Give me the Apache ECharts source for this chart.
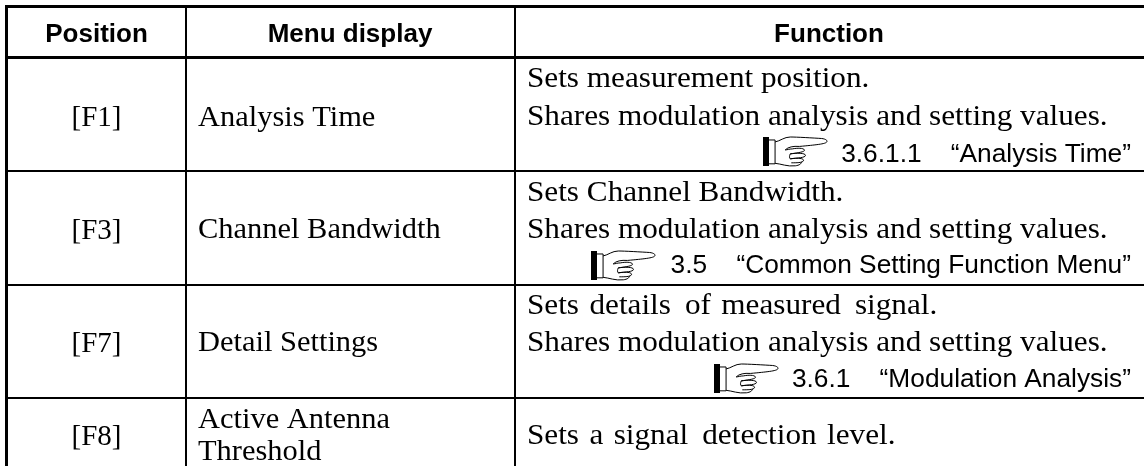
<!DOCTYPE html>
<html>
<head>
<meta charset="utf-8">
<style>html,body{margin:0;background:#fff}#chart{width:1144px;height:466px}</style>
<script src="https://cdn.jsdelivr.net/npm/echarts@6/dist/echarts.min.js"></script>
</head>
<body>
<div id="chart"></div>
<script>
// table contents
var headers = ['Position', 'Menu display', 'Function'];
var positions = ['[F1]', '[F3]', '[F7]', '[F8]'];
var menuDisplay = [['Analysis Time'], ['Channel Bandwidth'], ['Detail Settings'], ['Active Antenna', 'Threshold']];
var functionText = [
    ['Sets measurement position.', 'Shares modulation analysis and setting values.'],
    ['Sets Channel Bandwidth.', 'Shares modulation analysis and setting values.'],
    ['Sets \u200Adetails \u2009of \u200Ameasured \u2009signal.', 'Shares modulation analysis and setting values.'],
    ['Sets \u200Aa \u200Asignal \u2009detection \u200Alevel.']
];
var references = ['3.6.1.1    \u201cAnalysis Time\u201d', '3.5    \u201cCommon Setting Function Menu\u201d', '3.6.1    \u201cModulation Analysis\u201d', ''];

// rules, in axis units (axes run 0..1144 and 0..466)
var columnRules = [6.5, 186, 515];
var columnRuleWidths = [3, 2, 2];
var rowRules = [6.5, 57.5, 171, 285, 398];
var rowRuleWidths = [3, 3, 2, 2, 2];

// baselines per row
var positionBaselines = [126, 239, 352, 445];
var menuBaselines = [[126], [238], [351], [428, 460]];
var functionBaselines = [[87, 125], [201, 238], [314, 351], [444]];
var referenceBaselines = [162, 273, 387];
var handRects = [[763, 137], [591, 251], [714, 364]];

var serifKey = {font: '29px "Liberation Serif"', drop: 22, stretch: 1};
var serifMenu = {font: '29px "Liberation Serif"', drop: 22, stretch: 1.05};
var serif = {font: '29px "Liberation Serif"', drop: 22, stretch: 1.076};
var sans = {font: '26.3px "Liberation Sans"', drop: 20.2, stretch: 1};
var sansBold = {font: 'bold 26px "Liberation Sans"', drop: 19.5, stretch: 1};

var texts = [];
function addText(x, y, str, face, align) {
    texts.push([x, y, str, face, align]);
}
addText(96.5, 41, headers[0], sansBold, 'center');
addText(350, 41, headers[1], sansBold, 'center');
addText(829, 41, headers[2], sansBold, 'center');
positions.forEach(function (p, i) {
    addText(96.5, positionBaselines[i], p, serifKey, 'center');
    menuDisplay[i].forEach(function (s, j) {
        addText(198, menuBaselines[i][j], s, serifMenu, 'left');
    });
    functionText[i].forEach(function (s, j) {
        addText(527, functionBaselines[i][j], s, serif, 'left');
    });
    if (references[i]) {
        addText(1131, referenceBaselines[i], references[i], sans, 'right');
    }
});

var handOutline = 'M12 5C17 4 21 0 27 0C33 0 50 1 58 1.5C62 2 64 3.5 63 5C62 7 52 8 36 9.5' +
    'C30 9 25 10 22 13C24 13 26 12 29 12C34 11 40 11 41 13C42 15 34 16 27 17' +
    'C33 16 42 16 42 18.5C42 21 34 21 27 22C33 21 41 21 40 24C39 26 33 26 28 26' +
    'M12 26.5C18 27 24 30 32 29C36 28.5 38 27 38 25M27 17C26 19 26 21 27 22' +
    'M12 3L6 3M12 27L6 27M12 3L12 27';

var chart = echarts.init(document.getElementById('chart'), null, {renderer: 'canvas'});

function renderRule(params, api) {
    var horizontal = api.value(0) === 0;
    var a = api.coord(horizontal ? [5, api.value(1)] : [api.value(1), 5]);
    var b = api.coord(horizontal ? [1144, api.value(1)] : [api.value(1), 466]);
    return {
        type: 'line',
        shape: {x1: a[0], y1: a[1], x2: b[0], y2: b[1]},
        style: {stroke: '#000', lineWidth: api.value(2)}
    };
}

function renderText(params, api) {
    var t = texts[params.dataIndex];
    var p = api.coord([t[0], t[1]]);
    return {
        type: 'text',
        x: p[0],
        y: p[1] - t[3].drop,
        scaleX: t[3].stretch,
        style: {text: t[2], font: t[3].font, fill: '#000', align: t[4]}
    };
}

function renderHand(params, api) {
    var p = api.coord([api.value(0), api.value(1)]);
    return {
        type: 'group',
        x: p[0],
        y: p[1],
        children: [
            {type: 'rect', shape: {x: 0, y: 0, width: 6, height: 29}, style: {fill: '#000'}},
            {type: 'path', shape: {pathData: handOutline, layout: 'cover', x: 6, y: 0, width: 58, height: 29}, style: {fill: 'none', stroke: '#000', lineWidth: 1}}
        ]
    };
}

chart.setOption({
    animation: false,
    backgroundColor: '#fff',
    grid: {left: 0, right: 0, top: 0, bottom: 0},
    xAxis: {type: 'value', min: 0, max: 1144, show: false},
    yAxis: {type: 'value', min: 0, max: 466, inverse: true, show: false},
    series: [
        {
            type: 'custom',
            coordinateSystem: 'cartesian2d',
            renderItem: renderRule,
            silent: true,
            data: rowRules.map(function (y, i) { return [0, y, rowRuleWidths[i]]; })
                .concat(columnRules.map(function (x, i) { return [1, x, columnRuleWidths[i]]; }))
        },
        {
            type: 'custom',
            coordinateSystem: 'cartesian2d',
            renderItem: renderText,
            silent: true,
            data: texts.map(function (t) { return [t[0], t[1]]; })
        },
        {
            type: 'custom',
            coordinateSystem: 'cartesian2d',
            renderItem: renderHand,
            silent: true,
            data: handRects
        }
    ]
});
</script>
</body>
</html>
